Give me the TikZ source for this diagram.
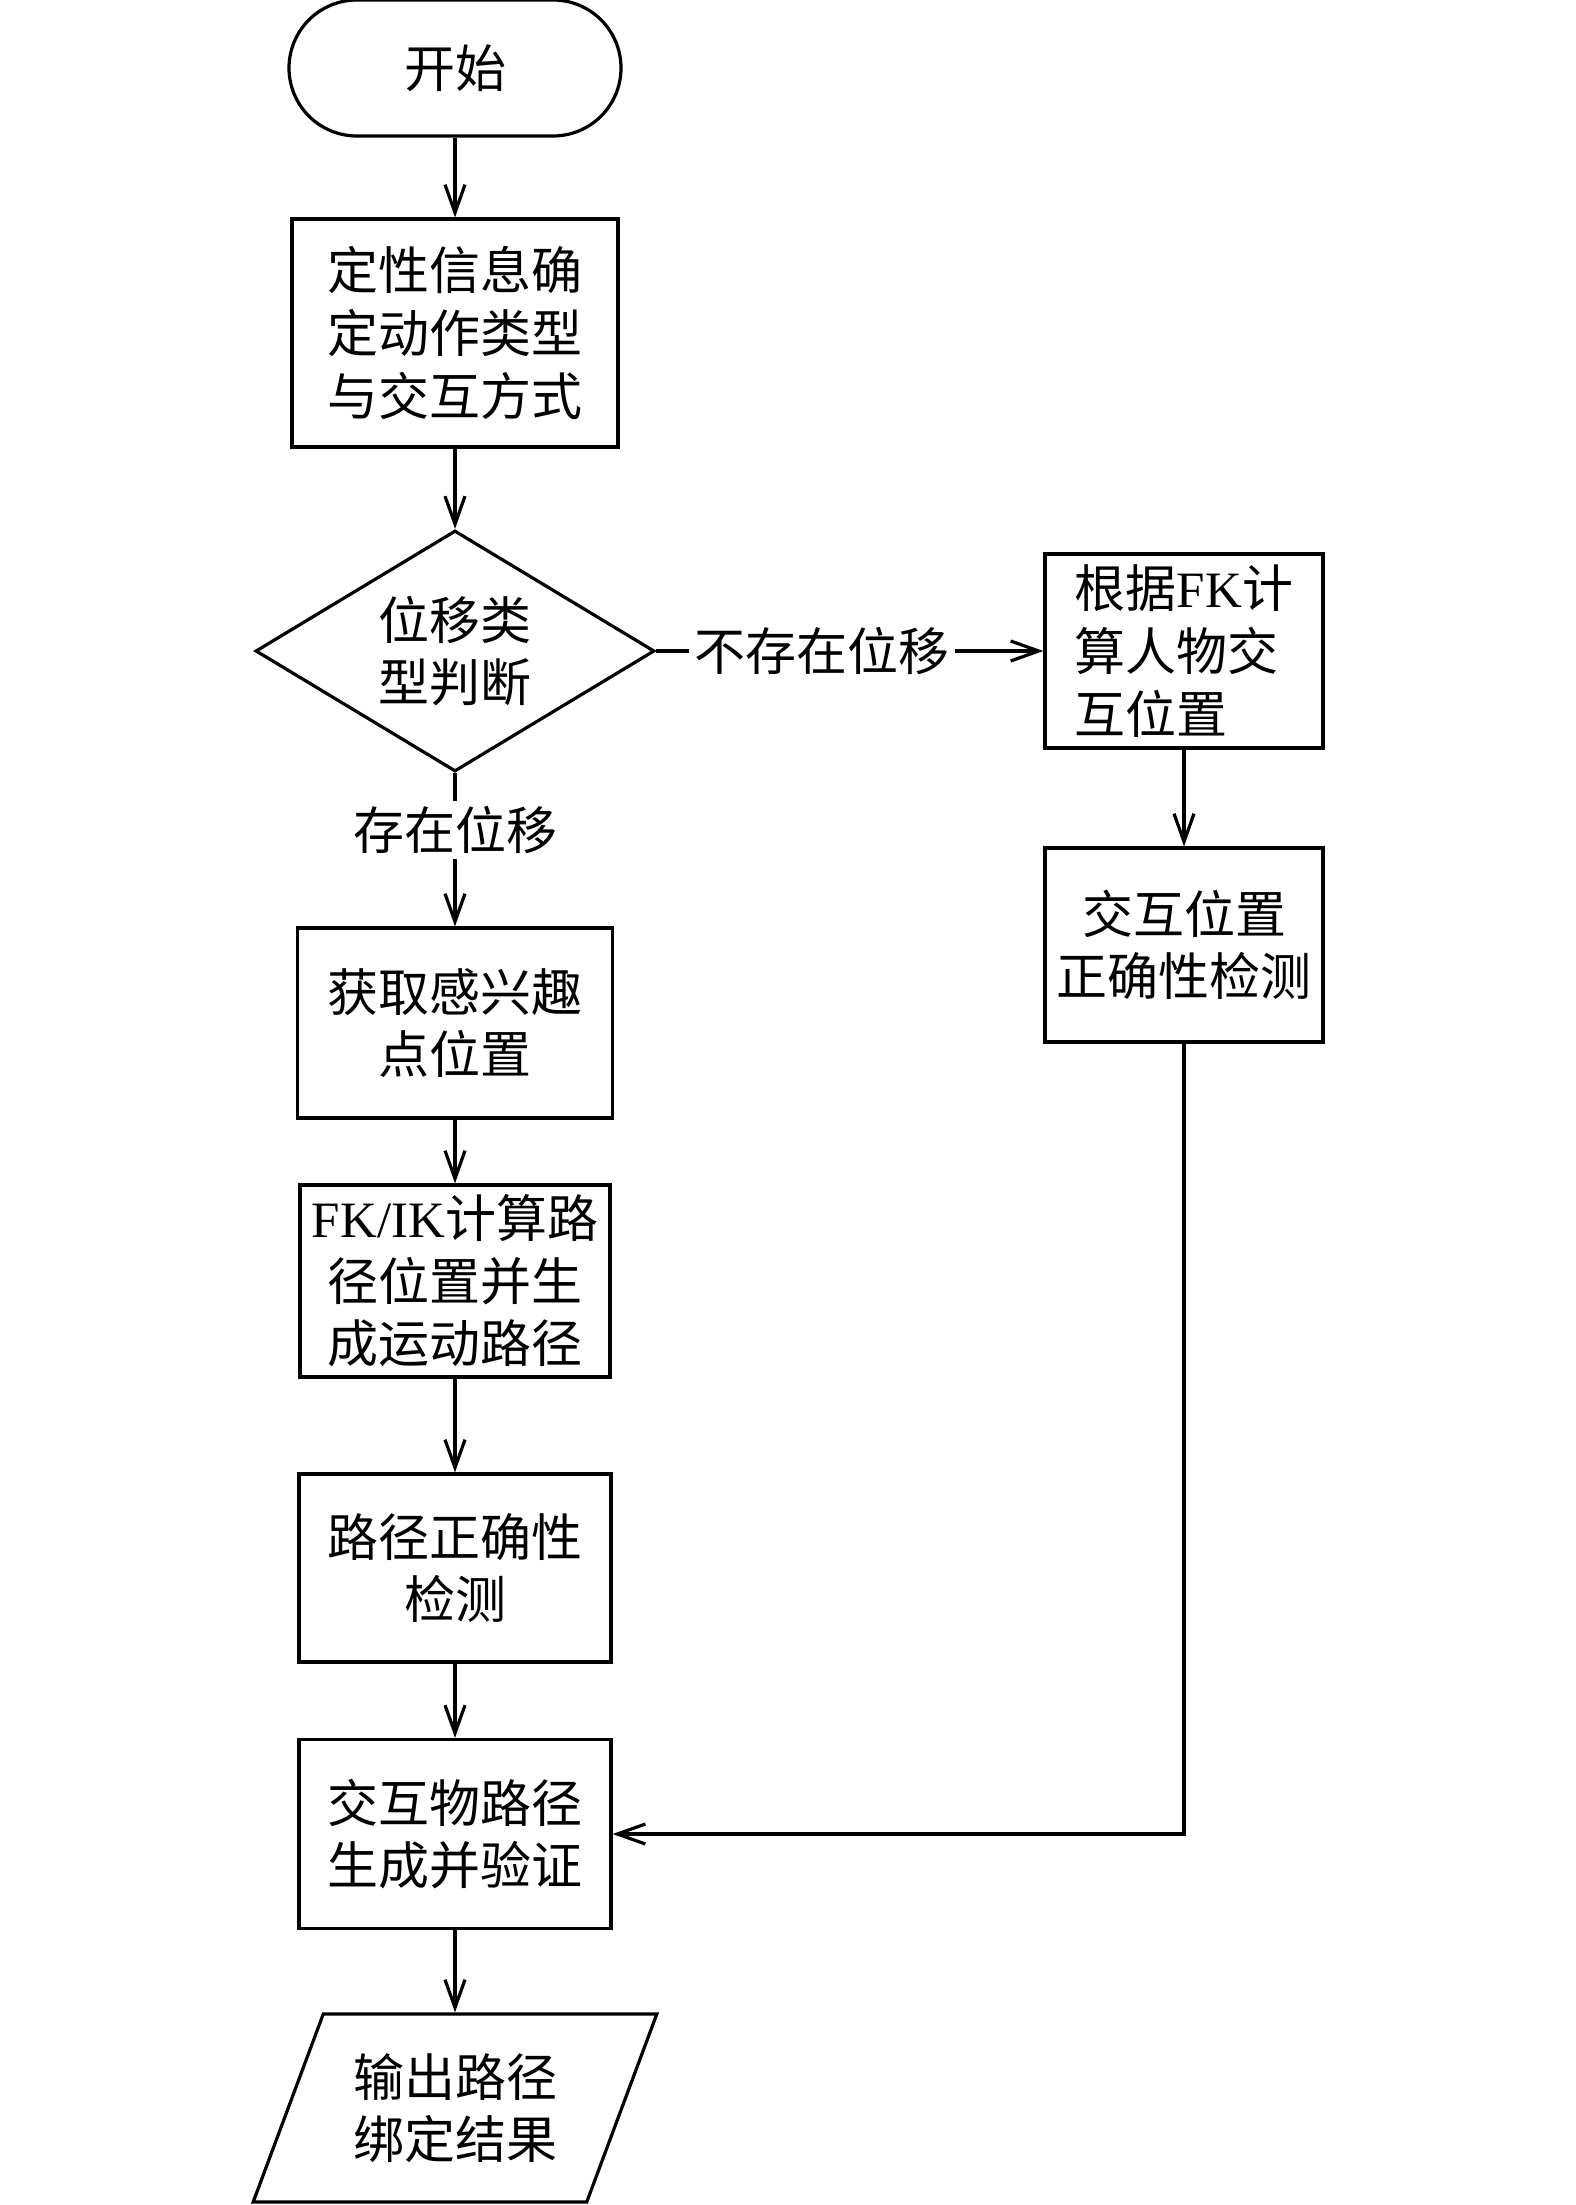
\documentclass[tikz,border=0pt]{standalone}
\usepackage{fontspec}
\setmainfont{Liberation Serif}
\newfontfamily\cjk{Noto Sans CJK SC}
\usetikzlibrary{shapes.geometric,arrows.meta}

\begin{document}
\begin{tikzpicture}[x=0.5pt,y=-0.5pt,line width=1.6pt,
    >={Straight Barb[length=14pt,width=10pt]},
    every node/.style={font=\fontsize{25.5}{31.3}\selectfont\cjk},
    box/.style={draw,rectangle,align=center,inner sep=0pt},
    lbl/.style={inner sep=2pt}]
    \useasboundingbox (0,0) rectangle (1575,2205);

    % Main column
    \node[draw,rounded corners=34pt,minimum width=166pt,minimum height=68pt] (start) at (455,68) {开始};
    \node[box,minimum width=163pt,minimum height=114pt] (task1) at (455,333) {定性信息确\\定动作类型\\与交互方式};
    \node[draw,diamond,shape aspect=1.66,inner sep=0pt,align=center,minimum width=199.5pt,minimum height=120.5pt] (judge) at (455,651) {位移类\\型判断};
    \node[box,minimum width=157.5pt,minimum height=95pt] (roi) at (455,1023) {获取感兴趣\\点位置};
    \node[box,minimum width=155pt,minimum height=96pt] (path) at (455,1281) {\textrm{FK/IK}计算路\\径位置并生\\成运动路径};
    \node[box,minimum width=156pt,minimum height=94pt] (check2) at (455,1568) {路径正确性\\检测};
    \node[box,minimum width=156pt,minimum height=94.5pt] (merge) at (455,1834) {交互物路径\\生成并验证};
    \node[draw,trapezium,trapezium left angle=63.7,trapezium right angle=116.3,trapezium stretches=true,
          inner sep=0pt,align=center,minimum width=202pt,minimum height=94pt] (output) at (455,2108) {输出路径\\绑定结果};

    % Right column
    \node[box,align=left,minimum width=139pt,minimum height=97pt] (fkbox) at (1184,651) {根据\textrm{FK}计\\算人物交\\互位置};
    \node[box,minimum width=139pt,minimum height=97pt] (check1) at (1184,945) {交互位置\\正确性检测};

    % Branch labels
    \node[lbl] (yes) at (455,830) {存在位移};
    \node[lbl] (no) at (822,651) {不存在位移};

    % Connectors
    \draw[->] (start) -- (task1);
    \draw[->] (task1) -- (judge);
    \draw (judge) -- (yes);
    \draw[->] (yes) -- (roi);
    \draw (judge) -- (no);
    \draw[->] (no) -- (fkbox);
    \draw[->] (roi) -- (path);
    \draw[->] (path) -- (check2);
    \draw[->] (check2) -- (merge);
    \draw[->] (merge) -- (output);
    \draw[->] (fkbox) -- (check1);
    \draw[->] (check1.south) |- (merge.east);
\end{tikzpicture}
\end{document}
